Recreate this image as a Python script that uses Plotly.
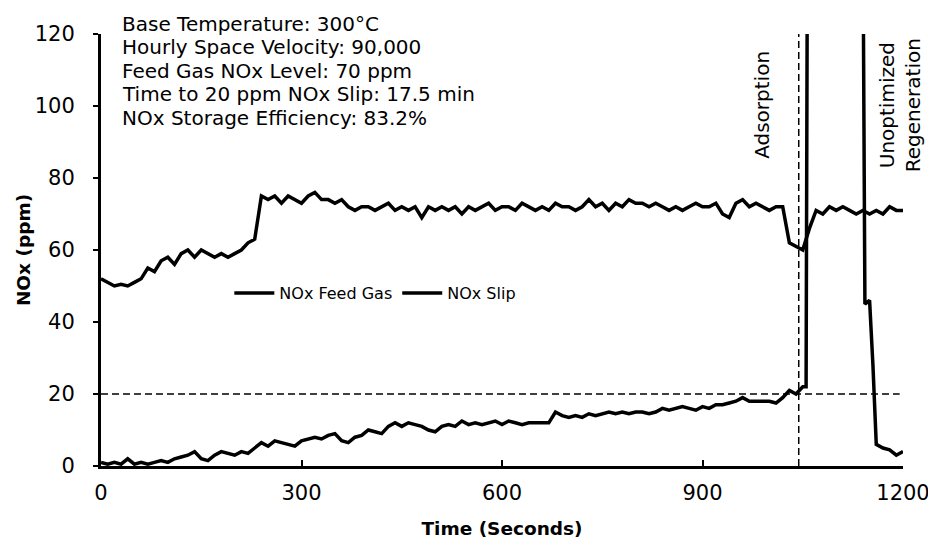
import plotly.graph_objects as go

# ---------------- data ----------------
feed_time = list(range(0, 1201, 10))
feed_nox = [52, 51, 50, 50.5, 50, 51, 52, 55, 54, 57,
            58, 56, 59, 60, 58, 60, 59, 58, 59, 58,
            59, 60, 62, 63, 75, 74, 75, 73, 75, 74,
            73, 75, 76, 74, 74, 73, 74, 72, 71, 72,
            72, 71, 72, 73, 71, 72, 71, 72, 69, 72,
            71, 72, 71, 72, 70, 72, 71, 72, 73, 71,
            72, 72, 71, 73, 72, 71, 72, 71, 73, 72,
            72, 71, 72, 74, 72, 73, 71, 73, 72, 74,
            73, 73, 72, 73, 72, 71, 72, 71, 72, 73,
            72, 72, 73, 70, 69, 73, 74, 72, 73, 72,
            71, 72, 72, 62, 61, 60, 66, 71, 70, 72,
            71, 72, 71, 70, 71, 70, 71, 70, 72, 71,
            71]

slip_time = list(range(0, 1051, 10)) + [1055, 1057, 1140, 1143, 1150, 1155, 1160, 1170, 1180, 1190, 1200]
slip_nox = [1, 0.5, 1, 0.5, 2, 0.5, 1, 0.5, 1, 1.5,
            1, 2, 2.5, 3, 4, 2, 1.5, 3, 4, 3.5,
            3, 4, 3.5, 5, 6.5, 5.5, 7, 6.5, 6, 5.5,
            7, 7.5, 8, 7.5, 8.5, 9, 7, 6.5, 8, 8.5,
            10, 9.5, 9, 11, 12, 11, 12, 11.5, 11, 10,
            9.5, 11, 11.5, 11, 12.5, 11.5, 12, 11.5, 12, 12.5,
            11.5, 12.5, 12, 11.5, 12, 12, 12, 12, 15, 14,
            13.5, 14, 13.5, 14.5, 14, 14.5, 15, 14.5, 15, 14.5,
            15, 15, 14.5, 15, 16, 15.5, 16, 16.5, 16, 15.5,
            16.5, 16, 17, 17, 17.5, 18, 19, 18, 18, 18,
            18, 17.5, 19, 21, 20, 22,
            22, 150, 150, 45, 46, 28, 6, 5, 4.5, 3, 4]

slip_threshold = 20          # ppm
breakthrough_time = 1044     # s

x_ticks = [0, 300, 600, 900, 1200]
y_ticks = [0, 20, 40, 60, 80, 100, 120]

info_lines = ["Base Temperature: 300°C",
              "Hourly Space Velocity: 90,000",
              "Feed Gas NOx Level: 70 ppm",
              "Time to 20 ppm NOx Slip: 17.5 min",
              "NOx Storage Efficiency: 83.2%"]

FONT = "DejaVu Sans"
TXT = 20

fig = go.Figure()
fig.add_trace(go.Scatter(x=feed_time, y=feed_nox, mode="lines", name="NOx Feed Gas",
                         line=dict(color="black", width=3.5)))
fig.add_trace(go.Scatter(x=slip_time, y=slip_nox, mode="lines", name="NOx Slip",
                         line=dict(color="black", width=3.5)))

# reference lines
fig.add_shape(type="line", xref="x", yref="y", x0=0, x1=1195, y0=slip_threshold, y1=slip_threshold,
              line=dict(color="black", width=1.5, dash="7px,4px"))
fig.add_shape(type="line", xref="x", yref="paper", x0=breakthrough_time, x1=breakthrough_time, y0=0, y1=1.0,
              line=dict(color="black", width=1.5, dash="7px,4px"))

# info block, one annotation per line
for i, line in enumerate(info_lines):
    fig.add_annotation(xref="paper", yref="paper", x=0.024, y=1.0556 - i * 0.0542,
                       xanchor="left", yanchor="top", text=line, showarrow=False, align="left",
                       font=dict(family=FONT, size=TXT, color="black"))

fig.add_annotation(xref="x", yref="paper", x=989, y=0.836, xanchor="center", yanchor="middle",
                   text="Adsorption", textangle=-90, showarrow=False,
                   font=dict(family=FONT, size=TXT, color="black"))
fig.add_annotation(xref="x", yref="paper", x=1196, y=0.836, xanchor="center", yanchor="middle",
                   text="Unoptimized<br>Regeneration", textangle=-90, showarrow=False, align="center",
                   font=dict(family=FONT, size=TXT, color="black"))

# page body has an 8px margin: figure is drawn at (8, 8) in the window
fig.update_layout(
    width=928, height=546,
    margin=dict(l=93, r=33, t=26, b=88),
    paper_bgcolor="white", plot_bgcolor="white",
    font=dict(family=FONT, color="black"),
    showlegend=True,
    legend=dict(orientation="h", x=0.16, y=0.40, xanchor="left", yanchor="middle",
                bgcolor="rgba(0,0,0,0)", font=dict(family=FONT, size=16, color="black"),
                itemwidth=40, tracegroupgap=0),
    xaxis=dict(range=[0, 1200], tickvals=x_ticks, ticktext=[str(v) for v in x_ticks],
               showgrid=False, zeroline=False, showline=True, linecolor="black", linewidth=3,
               ticks="inside", ticklen=6, tickwidth=2, tickcolor="black", automargin=False,
               ticklabelstandoff=6,
               tickfont=dict(family=FONT, size=21, color="black"),
               title=dict(text="<b>Time (Seconds)</b>", font=dict(family=FONT, size=18.5, color="black"), standoff=18)),
    yaxis=dict(range=[0, 120], tickvals=y_ticks, ticktext=[str(v) for v in y_ticks],
               showgrid=False, zeroline=False, showline=True, linecolor="black", linewidth=3,
               ticks="outside", ticklen=5, tickwidth=2, tickcolor="black", automargin=False,
               ticklabelstandoff=14,
               tickfont=dict(family=FONT, size=21, color="black"),
               title=dict(text="<b>NOx (ppm)</b>", font=dict(family=FONT, size=18.5, color="black"), standoff=0)),
)

fig.write_html("out.html")
